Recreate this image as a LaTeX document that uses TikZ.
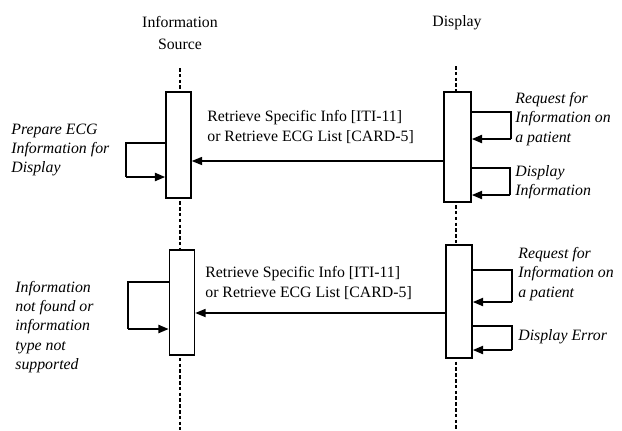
\documentclass[tikz,border=0pt]{standalone}
\usepackage{fontspec}
\setmainfont{Liberation Serif}
\usetikzlibrary{arrows.meta}
\begin{document}
\begin{tikzpicture}[x=.02cm,y=-.02cm,
life/.style={line width=1.2pt,dash pattern=on 2pt off 1.3pt},
actbox/.style={draw,line width=.7pt,fill=white,minimum width=.5cm,inner sep=0},
msg/.style={line width=1.1pt,-{Triangle[length=6pt,width=4.5pt]}},
back/.style={msg,line width=1.4pt},
selfl/.style={line width=.6pt},
head/.style={font=\fontsize{9}{13}\selectfont,align=center},
lbl/.style={font=\fontsize{9}{11}\selectfont,align=left,anchor=west,inner sep=0},
note/.style={font=\fontsize{9}{11}\selectfont\itshape,align=left,anchor=west,inner sep=0}]
\useasboundingbox(0,0)rectangle(622,430);
\node[head](src)at(180,33){Information\\Source};\node[head](dsp)at(457,23){Display};
\coordinate(srctop)at(180,68);\coordinate(srcbot)at(180,430);\coordinate(dsptop)at(456,66);\coordinate(dspbot)at(456,430);
\draw[life](srctop)--(srcbot);\draw[life](dsptop)--(dspbot);
\node[actbox,minimum height=2.12cm](src1)at(178.5,145){};\node[actbox,minimum height=2.1cm](src2)at(182,302.5){};
\node[actbox,minimum height=2.2cm,minimum width=.54cm](dsp1)at(457.5,147){};\node[actbox,minimum height=2.26cm,minimum width=.52cm](dsp2)at(459,301.5){};
\draw[msg](dsp1.west|-0,161)--(src1.east|-0,161);\draw[msg](dsp2.west|-0,313)--(src2.east|-0,313);
\node[lbl](m1)at(207,127){Retrieve Specific Info [ITI-11]\\or Retrieve ECG List [CARD-5]};
\node[lbl](m2)at(205,283){Retrieve Specific Info [ITI-11]\\or Retrieve ECG List [CARD-5]};
\draw[selfl](src1.west|-0,143)-|(126,177)coordinate(l1);\draw[back](l1)--(src1.west|-0,177);
\draw[selfl](src2.west|-0,282)-|(128,329)coordinate(l2);\draw[back](l2)--(src2.west|-0,329);
\draw[selfl](dsp1.east|-0,112)-|(511,139)coordinate(r1);\draw[back](r1)--(dsp1.east|-0,139);
\draw[selfl](dsp1.east|-0,168)-|(510,195)coordinate(r2);\draw[back](r2)--(dsp1.east|-0,195);
\draw[selfl](dsp2.east|-0,270)-|(512,302)coordinate(r3);\draw[back](r3)--(dsp2.east|-0,302);
\draw[selfl](dsp2.east|-0,326)-|(512,350)coordinate(r4);\draw[back](r4)--(dsp2.east|-0,350);
\node[note](n1)at(11,150){Prepare ECG\\Information for\\Display};
\node[note](n2)at(15,327){Information\\not found or\\information\\type not\\supported};
\node[note](n3)at(515,119){Request for\\Information on\\a patient};\node[note](n4)at(515,182){Display\\Information};
\node[note](n5)at(518,274){Request for\\Information on\\a patient};\node[note](n6)at(518,337){Display Error};
\end{tikzpicture}
\end{document}
